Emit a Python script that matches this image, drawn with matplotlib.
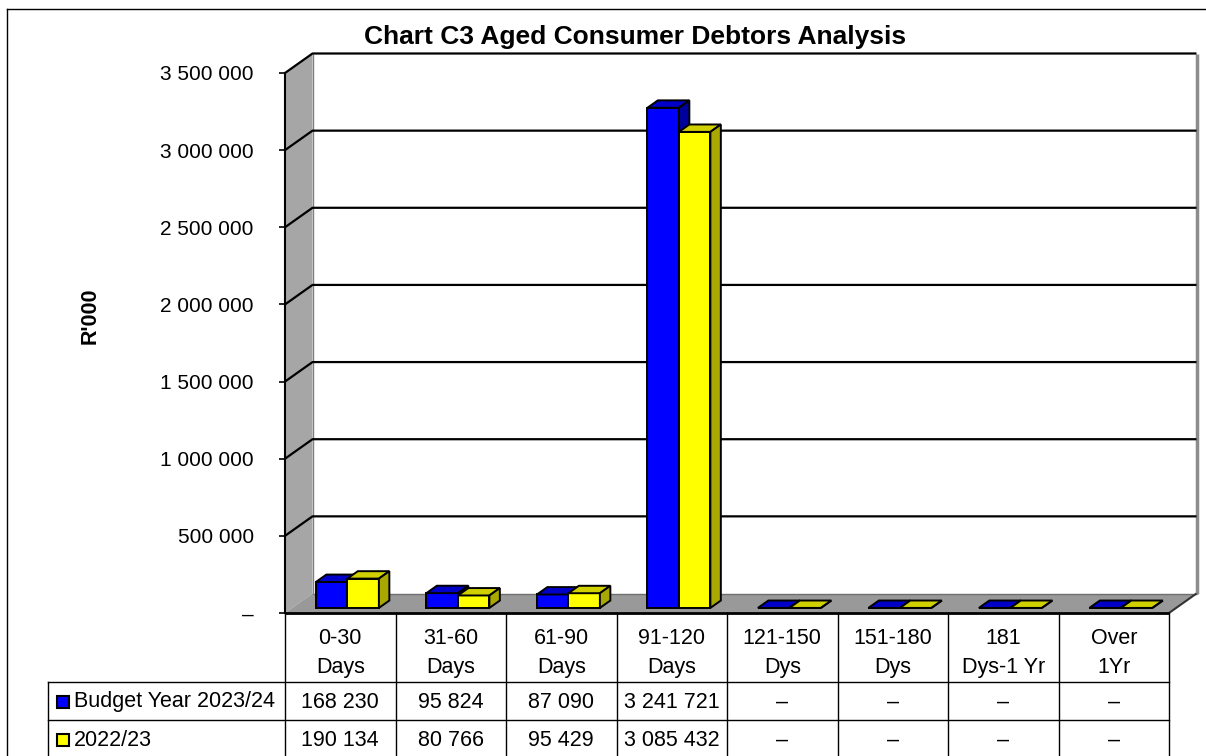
import matplotlib
matplotlib.use('Agg')
import matplotlib.pyplot as plt
from matplotlib.patches import Polygon, Rectangle
from matplotlib.transforms import blended_transform_factory

categories = ['0-30\nDays', '31-60\nDays', '61-90\nDays', '91-120\nDays',
              '121-150\nDys', '151-180\nDys', '181\nDys-1 Yr', 'Over\n1Yr']
budget_2023_24 = [168230, 95824, 87090, 3241721, 0, 0, 0, 0]
year_2022_23 = [190134, 80766, 95429, 3085432, 0, 0, 0, 0]
series_names = ['Budget Year 2023/24', '2022/23']
y_ticks = [0, 500000, 1000000, 1500000, 2000000, 2500000, 3000000, 3500000]
title = 'Chart C3 Aged Consumer Debtors Analysis'
y_label = "R'000"

plt.rcParams['font.family'] = ['Liberation Sans', 'DejaVu Sans']


def fmt(v):
    # space as thousands separator, dash for nil
    return '\u2013' if v == 0 else f'{v:,}'.replace(',', ' ')


W, H = 1206, 756
fig = plt.figure(figsize=(W / 100, H / 100), dpi=100)
bg = fig.add_axes([0, 0, 1, 1])
bg.set_xlim(0, W)
bg.set_ylim(H, 0)
bg.axis('off')

# front plane of the plot box (pixels)
X0, X1, YT, YB = 285, 1169, 73, 613
ax = fig.add_axes([X0 / W, (H - YB) / H, (X1 - X0) / W, (YB - YT) / H])
n = len(categories)
ymax = y_ticks[-1]
ax.set_xlim(0, n)
ax.set_ylim(0, ymax)
ax.patch.set_visible(False)
for s in ['top', 'right', 'bottom']:
    ax.spines[s].set_visible(False)
ax.spines['left'].set_linewidth(1.5)
ax.spines['left'].set_zorder(5)
ax.set_xticks([])
ax.set_yticks(y_ticks)
ax.set_yticklabels([fmt(v) for v in y_ticks], fontsize=15)
ax.tick_params(axis='y', length=4.5, width=1.2, pad=18)

# depth of the box, converted to data units
DX_PX, DY_PX = 27.5, 19.5
ddx = DX_PX * n / (X1 - X0)
ddy = DY_PX * ymax / (YB - YT)


def P(x, y, d):
    return (x + d * ddx, y + d * ddy)


def poly(pts, fc, ec='none', lw=0, z=1):
    ax.add_patch(Polygon(pts, closed=True, fc=fc, ec=ec, lw=lw, zorder=z,
                         clip_on=False, joinstyle='miter'))


def seg(pts, color='black', lw=1.6, z=2):
    xs = [p[0] for p in pts]
    ys = [p[1] for p in pts]
    ax.plot(xs, ys, color=color, lw=lw, zorder=z, clip_on=False,
            solid_capstyle='butt')


# walls and floor
poly([P(0, 0, 0), P(0, ymax, 0), P(0, ymax, 1), P(0, 0, 1)], '#a6a6a6', z=0.5)
poly([P(0, 0, 0), P(n, 0, 0), P(n, 0, 1), P(0, 0, 1)], '#999999', z=0.5)
poly([P(0, 0, 1), P(n, 0, 1), P(n, ymax, 1), P(0, ymax, 1)], 'white', z=0.5)
seg([P(n, 0, 1), P(n, ymax, 1)], color='#8c8c8c', lw=2.5, z=1)
seg([P(0, 0, 1), P(0, ymax, 1)], color='#7f7f7f', lw=1, z=1)
seg([P(0, 0, 1), P(n, 0, 1)], color='#6f6f6f', lw=1, z=1)
seg([P(n, 0, 0), P(n, 0, 1)], color='#333333', lw=1.5, z=1)
seg([P(0, 0, 0), P(n, 0, 0)], color='black', lw=2, z=4)

# gridlines across the side wall and back wall
for v in y_ticks[1:]:
    seg([P(0, v, 0), P(0, v, 1), P(n, v, 1)], lw=1.6, z=2)

# bars
d0, d1 = 0.26, 0.64
series = [
    (budget_2023_24, 0.215, 0.5, '#0000ff', '#0000c8', '#00009c'),
    (year_2022_23, 0.5, 0.785, '#ffff00', '#d0d000', '#a8a800'),
]
z = 3
for i in range(n):
    for vals, a, b, c_front, c_top, c_side in series:
        h = vals[i]
        xa, xb = i + a, i + b
        kw = dict(ec='black', lw=1.4)
        poly([P(xa, 0, d0), P(xb, 0, d0), P(xb, h, d0), P(xa, h, d0)], c_front, z=z, **kw)
        poly([P(xa, h, d0), P(xb, h, d0), P(xb, h, d1), P(xa, h, d1)], c_top, z=z, **kw)
        poly([P(xb, 0, d0), P(xb, 0, d1), P(xb, h, d1), P(xb, h, d0)], c_side, z=z, **kw)
        z += 0.01

# data table below the plot
tr = blended_transform_factory(ax.transData, bg.transData)
ROW1, ROW2 = 682, 720
LEFT = 48
for k in range(n + 1):
    ax.plot([k, k], [YB, H], transform=tr, color='black', lw=1, clip_on=False)
bg.plot([LEFT, LEFT], [ROW1, H], color='black', lw=1)
for yy in (ROW1, ROW2):
    bg.plot([LEFT, X1], [yy, yy], color='black', lw=1)

for i, lab in enumerate(categories):
    ax.text(i + 0.5, 653, lab, transform=tr, ha='center', va='center',
            fontsize=15.5, linespacing=1.45, clip_on=False)
    ax.text(i + 0.5, 702, fmt(budget_2023_24[i]), transform=tr, ha='center',
            va='center', fontsize=15.5, clip_on=False)
    ax.text(i + 0.5, 740, fmt(year_2022_23[i]), transform=tr, ha='center',
            va='center', fontsize=15.5, clip_on=False)

for (name, colour), yc in zip(zip(series_names, ['#0000ff', '#ffff00']), [702, 740]):
    bg.add_patch(Rectangle((57, yc - 6), 12, 12, fc=colour, ec='black', lw=1.5))
    bg.text(74, yc, name, ha='left', va='center', fontsize=15.5)

# titles and chart border
bg.text(635, 37, title, ha='center', va='center', fontsize=19, fontweight='bold')
bg.text(90, 316, y_label, ha='center', va='center', rotation=90,
        fontsize=15.5, fontweight='bold')
bg.plot([7, 7], [9, H], color='black', lw=1)
bg.plot([7, W], [9, 9], color='black', lw=1)

fig.savefig('out.png', dpi=100)
